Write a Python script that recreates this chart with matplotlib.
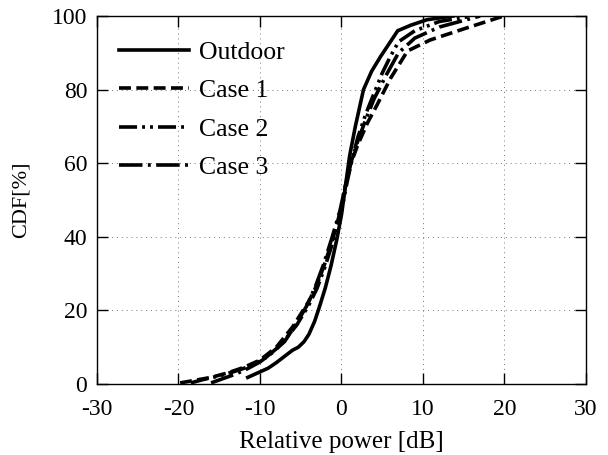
import matplotlib
matplotlib.use("Agg")
import matplotlib.pyplot as plt

plt.rcParams['font.family'] = ['Liberation Serif', 'DejaVu Serif']
plt.rcParams['axes.unicode_minus'] = False

# Data
outdoor_x = [-11.5, -10.5, -9.0, -8.0, -7.0, -6.0, -5.3, -4.6, -4.0, -3.3, -2.7, -2.0, -1.3, -0.6, 0.0, 0.5, 1.0, 1.7, 2.7, 3.7, 4.8, 6.0, 6.9, 8.5, 10.5, 13.7]
outdoor_y = [1.8, 2.8, 4.3, 5.8, 7.5, 9.2, 10.0, 11.5, 13.5, 17.0, 21.0, 26.0, 32.0, 39.0, 46.0, 54.0, 62.0, 70.0, 80.0, 85.0, 89.0, 93.0, 96.0, 97.5, 99.0, 100.0]

case1_x = [-19.8, -18.0, -16.0, -14.0, -12.0, -10.0, -8.0, -6.0, -4.0, -3.0, -2.0, -1.0, 0.0, 0.5, 1.0, 2.0, 3.2, 4.4, 6.0, 8.1, 10.9, 15.0, 19.9]
case1_y = [0.3, 1.0, 1.8, 3.0, 4.5, 6.5, 10.0, 15.5, 22.5, 27.0, 33.0, 40.0, 48.0, 54.0, 59.0, 65.0, 71.0, 76.0, 83.0, 90.5, 93.5, 96.5, 100.0]

case2_x = [-18.5, -17.0, -15.0, -13.0, -11.0, -9.5, -7.5, -5.5, -4.0, -3.0, -2.0, -1.0, 0.0, 0.7, 1.3, 2.0, 3.0, 4.0, 5.0, 6.0, 7.0, 9.0, 12.0, 16.0]
case2_y = [0.3, 1.2, 2.2, 3.5, 5.0, 6.8, 10.5, 16.0, 21.5, 26.0, 32.0, 39.0, 47.0, 55.0, 61.0, 67.0, 73.5, 79.0, 84.5, 89.0, 93.0, 96.0, 98.5, 100.0]

case3_x = [-16.0, -14.5, -13.0, -11.5, -10.0, -8.5, -7.0, -5.5, -4.2, -3.2, -2.2, -1.2, -0.2, 0.6, 1.2, 2.0, 3.0, 4.0, 5.5, 7.0, 9.0, 12.0, 17.0]
case3_y = [0.3, 1.5, 2.7, 4.2, 6.0, 8.5, 11.5, 16.5, 21.5, 26.5, 32.5, 39.5, 47.0, 55.0, 60.5, 66.0, 72.0, 77.5, 84.0, 90.0, 94.0, 97.0, 100.0]

labels = ["Outdoor", "Case 1", "Case 2", "Case 3"]
x_ticks = [-30, -20, -10, 0, 10, 20, 30]
y_ticks = [0, 20, 40, 60, 80, 100]

fig = plt.figure(figsize=(6.08, 4.55), dpi=100)
ax = fig.add_axes([0.1595, 0.156, 0.8043, 0.8088])

lw = 2.6
ax.plot(outdoor_x, outdoor_y, color='black', lw=lw, ls='-', label=labels[0])
ax.plot(case1_x, case1_y, color='black', lw=lw, ls=(0, (3.3, 1.5)), label=labels[1])
ax.plot(case2_x, case2_y, color='black', lw=lw, ls=(0, (5.0, 1.4, 0.8, 1.4, 0.8, 1.4)), label=labels[2])
ax.plot(case3_x, case3_y, color='black', lw=lw, ls=(0, (6.5, 1.5, 0.8, 1.5)), label=labels[3])

ax.set_xlim(-30, 30)
ax.set_ylim(0, 100)
ax.set_xticks(x_ticks)
ax.set_yticks(y_ticks)
ax.tick_params(direction='in', top=True, right=True, labelsize=17, length=8, width=1)
ax.tick_params(axis='x', pad=11)
ax.tick_params(axis='y', pad=7)
ax.grid(True, ls=(0, (1, 4)), color='#777777', lw=0.7)
ax.set_xlabel("Relative power [dB]", fontsize=18, labelpad=8)
ax.set_ylabel("CDF[%]", fontsize=16, labelpad=15)
for s in ax.spines.values():
    s.set_linewidth(1.0)

leg = ax.legend(loc='upper left', frameon=False, fontsize=18.5, handlelength=2.7,
                handletextpad=0.4, labelspacing=0.6, borderaxespad=0.0,
                bbox_to_anchor=(0.025, 0.96))

fig.savefig("out.png", dpi=100)
